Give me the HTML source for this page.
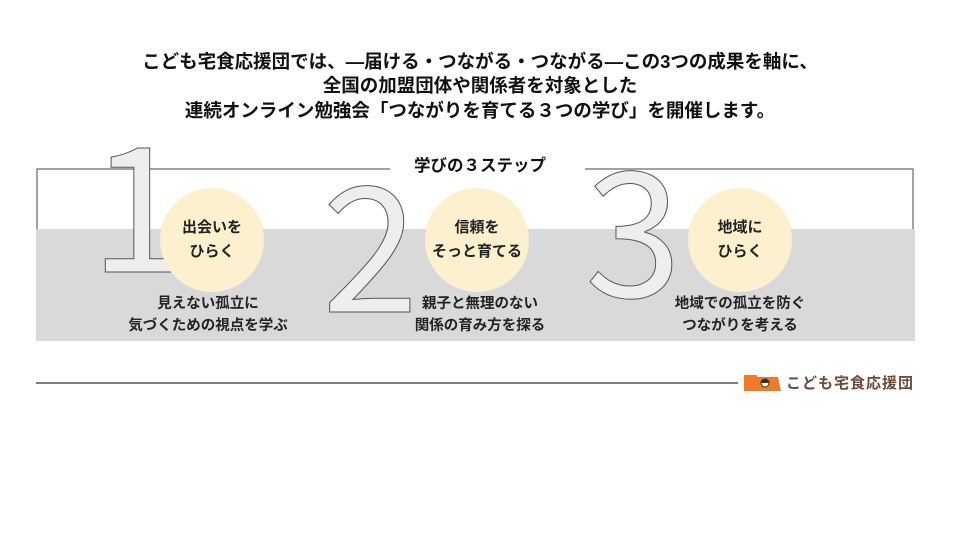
<!DOCTYPE html>
<html><head><meta charset="utf-8"><style>
body{margin:0;width:960px;height:540px;background:#fff;overflow:hidden;position:relative;font-family:"Liberation Sans","Noto Sans CJK JP",sans-serif;}
.t{position:absolute;left:0;width:960px;text-align:center;font-weight:bold;font-size:18.5px;color:#111;line-height:24px;}
.abs{position:absolute;}
.c{position:absolute;width:104px;height:104px;border-radius:50%;background:#fdf0cf;display:flex;align-items:center;justify-content:center;text-align:center;font-weight:bold;font-size:15px;line-height:24px;color:#222;}
.d{position:absolute;width:260px;text-align:center;font-weight:bold;font-size:14.5px;line-height:22px;color:#222;}
</style></head><body>
<div class="t" style="top:50px">こども宅食応援団では、—届ける・つながる・つながる—この3つの成果を軸に、</div>
<div class="t" style="top:74px">全国の加盟団体や関係者を対象とした</div>
<div class="t" style="top:99px">連続オンライン勉強会「つながりを育てる３つの学び」を開催します。</div>

<div class="abs" style="left:36px;top:229px;width:879px;height:112px;background:#d9d9d9"></div>
<svg class="abs" style="left:0;top:0" width="960" height="540">
<polyline points="37,229 37,169 390,169" fill="none" stroke="#444" stroke-width="1"/>
<polyline points="585,169 913,169 913,229" fill="none" stroke="#444" stroke-width="1"/>
<g font-family="Noto Sans CJK JP, sans-serif" font-size="174" fill="#eeeeee" stroke="#555" stroke-width="1">
<text x="90" y="272">1</text>
<text x="322" y="312">2</text>
<text x="585" y="297">3</text>
</g>
<line x1="36" y1="383" x2="738" y2="383" stroke="#555" stroke-width="1.5"/>
<path d="M744 375 L757 375 L757 377 L778 377 L781 391 L744 391 Z" fill="#ee7a2a"/>
<circle cx="765" cy="383" r="4" fill="#fff" stroke="#333" stroke-width="1"/>
<path d="M761 383 A4 4 0 0 1 769 383 Z" fill="#333"/>
</svg>
<div class="t" style="top:154px;font-size:16.5px">学びの３ステップ</div>

<div class="c" style="left:160px;top:188px">出会いを<br>ひらく</div>
<div class="c" style="left:425px;top:188px">信頼を<br>そっと育てる</div>
<div class="c" style="left:688px;top:188px">地域に<br>ひらく</div>

<div class="d" style="left:78px;top:293px">見えない孤立に<br>気づくための視点を学ぶ</div>
<div class="d" style="left:350px;top:293px">親子と無理のない<br>関係の育み方を探る</div>
<div class="d" style="left:610px;top:293px">地域での孤立を防ぐ<br>つながりを考える</div>

<div class="abs" style="left:786px;top:372px;font-size:15px;font-weight:bold;color:#6b4a3a;letter-spacing:1px">こども宅食応援団</div>
</body></html>
